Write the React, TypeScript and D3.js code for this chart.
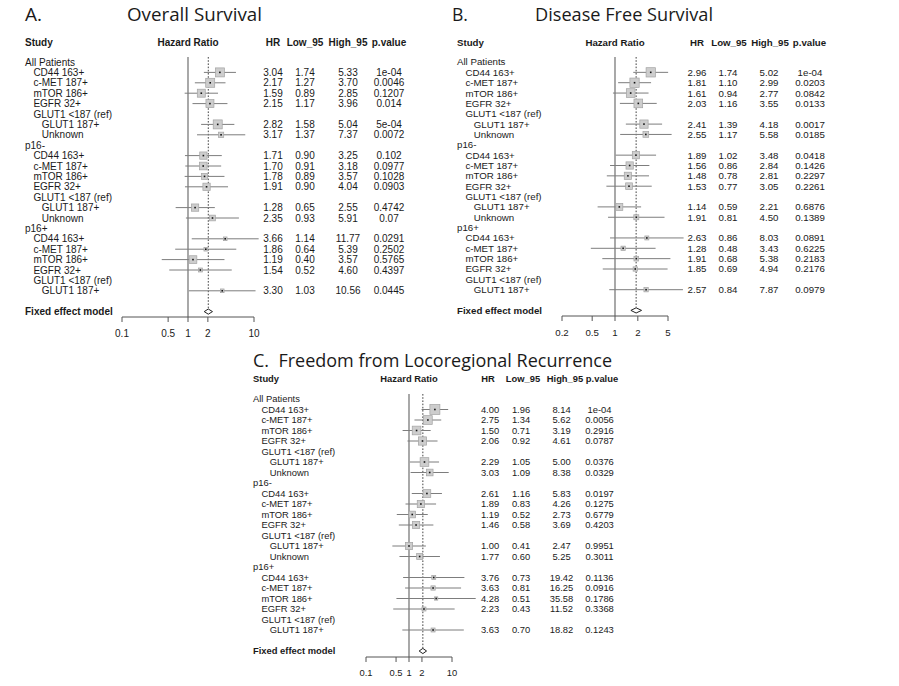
import React from "react";
import * as d3 from "d3";

// row labels shared by the three panels
const studyLabels = [
  "All Patients", "CD44 163+", "c-MET 187+", "mTOR 186+", "EGFR 32+", "GLUT1 <187 (ref)", "GLUT1 187+", "Unknown",
  "p16-", "CD44 163+", "c-MET 187+", "mTOR 186+", "EGFR 32+", "GLUT1 <187 (ref)", "GLUT1 187+", "Unknown",
  "p16+", "CD44 163+", "c-MET 187+", "mTOR 186+", "EGFR 32+", "GLUT1 <187 (ref)", "GLUT1 187+",
];
const studyIndent = [0, 1, 1, 1, 1, 1, 2, 2, 0, 1, 1, 1, 1, 1, 2, 2, 0, 1, 1, 1, 1, 1, 2];
// rows that carry an estimate (others are headings / reference)
const dataRows = [1, 2, 3, 4, 6, 7, 9, 10, 11, 12, 14, 15, 17, 18, 19, 20, 22];

// A. Overall Survival
const hrA = [3.04, 2.17, 1.59, 2.15, 2.82, 3.17, 1.71, 1.7, 1.78, 1.91, 1.28, 2.35, 3.66, 1.86, 1.19, 1.54, 3.3];
const lowA = [1.74, 1.27, 0.89, 1.17, 1.58, 1.37, 0.9, 0.91, 0.89, 0.9, 0.65, 0.93, 1.14, 0.64, 0.4, 0.52, 1.03];
const highA = [5.33, 3.7, 2.85, 3.96, 5.04, 7.37, 3.25, 3.18, 3.57, 4.04, 2.55, 5.91, 11.77, 5.39, 3.57, 4.6, 10.56];
const pA = ["1e-04", "0.0046", "0.1207", "0.014", "5e-04", "0.0072", "0.102", "0.0977", "0.1028", "0.0903", "0.4742", "0.07", "0.0291", "0.2502", "0.5765", "0.4397", "0.0445"];
const weightA = [9, 9, 8, 8, 9, 5.3, 7.3, 7.7, 6, 7.3, 7.3, 5.7, 3.7, 3.7, 7.7, 4, 3.7];
const fixedA = [2.03, 1.76, 2.35];
const ticksA = [0.1, 0.5, 1, 2, 10];

// B. Disease Free Survival
const hrB = [2.96, 1.81, 1.61, 2.03, 2.41, 2.55, 1.89, 1.56, 1.48, 1.53, 1.14, 1.91, 2.63, 1.28, 1.91, 1.85, 2.57];
const lowB = [1.74, 1.1, 0.94, 1.16, 1.39, 1.17, 1.02, 0.86, 0.78, 0.77, 0.59, 0.81, 0.86, 0.48, 0.68, 0.69, 0.84];
const highB = [5.02, 2.99, 2.77, 3.55, 4.18, 5.58, 3.48, 2.84, 2.81, 3.05, 2.21, 4.5, 8.03, 3.43, 5.38, 4.94, 7.87];
const pB = ["1e-04", "0.0203", "0.0842", "0.0133", "0.0017", "0.0185", "0.0418", "0.1426", "0.2297", "0.2261", "0.6876", "0.1389", "0.0891", "0.6225", "0.2183", "0.2176", "0.0979"];
const weightB = [9.3, 9.3, 8.7, 8.7, 8.3, 5.7, 7.3, 7.3, 7.3, 6.7, 7, 5, 4, 4.3, 4.7, 4.3, 4.3];
const fixedB = [1.9, 1.62, 2.24];
const ticksB = [0.2, 0.5, 1, 2, 5];

// C. Freedom from Locoregional Recurrence
const hrC = [4.0, 2.75, 1.5, 2.06, 2.29, 3.03, 2.61, 1.89, 1.19, 1.46, 1.0, 1.77, 3.76, 3.63, 4.28, 2.23, 3.63];
const lowC = [1.96, 1.34, 0.71, 0.92, 1.05, 1.09, 1.16, 0.83, 0.52, 0.58, 0.41, 0.6, 0.73, 0.81, 0.51, 0.43, 0.7];
const highC = [8.14, 5.62, 3.19, 4.61, 5.0, 8.38, 5.83, 4.26, 2.73, 3.69, 2.47, 5.25, 19.42, 16.25, 35.58, 11.52, 18.82];
const pC = ["1e-04", "0.0056", "0.2916", "0.0787", "0.0376", "0.0329", "0.0197", "0.1275", "0.6779", "0.4203", "0.9951", "0.3011", "0.1136", "0.0916", "0.1786", "0.3368", "0.1243"];
const weightC = [10, 8.7, 8.7, 8.3, 8.7, 6.7, 7.7, 7.3, 6.7, 7.3, 7.3, 6, 4, 4.3, 3.3, 4, 4];
const fixedC = [2.1, 1.72, 2.56];
const ticksC = [0.1, 0.5, 1, 2, 10];

const colHeads = ["HR", "Low_95", "High_95", "p.value"];

const panels = [
  {
    key: "A", letter: "A.", title: "Overall Survival", letterX: 25, letterW: 17, titleX: 127, titleW: 135, titleY: 21,
    x0: 25, fs: 10, headY: 45.5, rowY0: 62, rowH: 10.4, domain: [0.1, 10], range: [122, 254],
    cols: [273, 305, 348, 389], headCols: [273, 305, 348, 389], axisY: 317, tickY: 337,
    hr: hrA, low: lowA, high: highA, p: pA, w: weightA, fixed: fixedA, ticks: ticksA,
  },
  {
    key: "B", letter: "B.", title: "Disease Free Survival", letterX: 452, letterW: 16, titleX: 535, titleW: 178, titleY: 21,
    x0: 457, fs: 9.7, headY: 45.5, rowY0: 62, rowH: 10.35, domain: [0.2, 5], range: [562, 668],
    cols: [697, 728, 769, 810], headCols: [697, 729, 770, 809.5], axisY: 316, tickY: 336,
    hr: hrB, low: lowB, high: highB, p: pB, w: weightB, fixed: fixedB, ticks: ticksB,
  },
  {
    key: "C", letter: "", title: "C.  Freedom from Locoregional Recurrence", letterX: 0, letterW: 0, titleX: 253, titleW: 359, titleY: 367,
    x0: 253, fs: 9.4, headY: 381.5, rowY0: 399, rowH: 10.5, domain: [0.1, 10], range: [366, 452],
    cols: [490, 521, 561.5, 599.5], headCols: [488, 523, 565, 602], axisY: 657, tickY: 676,
    hr: hrC, low: lowC, high: highC, p: pC, w: weightC, fixed: fixedC, ticks: ticksC,
  },
];

const textFont = "'Liberation Sans', Arial, sans-serif";
const titleFont = "'Open Sans', 'Noto Sans', sans-serif";

function Forest({ cfg }: { cfg: any }) {
  const x = d3.scaleLog().domain(cfg.domain).range(cfg.range);
  const y = (i: number) => cfg.rowY0 + i * cfg.rowH;
  const box = d3.scaleLinear().domain([0, 10]).range([0, 10]);
  const fixedRow = studyLabels.length + 1;
  const fy = y(fixedRow);
  const [fe, fl, fh] = cfg.fixed;
  const top = cfg.rowY0 - 5;
  const dy = cfg.fs * 0.36;

  return (
    <g fontFamily={textFont} fontSize={cfg.fs} fill="#1a1a1a">
      {cfg.letter && (
        <text x={cfg.letterX} y={cfg.titleY} fontFamily={titleFont} fontSize={19} textLength={cfg.letterW} lengthAdjust="spacingAndGlyphs">{cfg.letter}</text>
      )}
      <text x={cfg.titleX} y={cfg.titleY} fontFamily={titleFont} fontSize={19} textLength={cfg.titleW} lengthAdjust="spacingAndGlyphs" style={{ whiteSpace: "pre" }}>{cfg.title}</text>

      <text x={cfg.x0} y={cfg.headY} fontWeight="bold">Study</text>
      <text x={x(1)} y={cfg.headY} fontWeight="bold" textAnchor="middle">Hazard Ratio</text>
      {colHeads.map((h, k) => (
        <text key={h} x={cfg.headCols[k]} y={cfg.headY} fontWeight="bold" textAnchor="middle">{h}</text>
      ))}

      {studyLabels.map((s, i) => (
        <text key={i} x={cfg.x0 + studyIndent[i] * 8.4} y={y(i) + dy}>{s}</text>
      ))}
      <text x={cfg.x0} y={fy + dy} fontWeight="bold">Fixed effect model</text>

      {/* reference line at 1 and dotted line at pooled estimate */}
      <line x1={x(1)} x2={x(1)} y1={top} y2={cfg.axisY} stroke="#7a7a7a" strokeWidth={1.3} />
      <line x1={x(fe)} x2={x(fe)} y1={top} y2={fy - 3} stroke="#444" strokeWidth={1} strokeDasharray="1.6,1.6" />

      {dataRows.map((r, k) => {
        const cy = y(r);
        const s = box(cfg.w[k]);
        return (
          <g key={r}>
            <line x1={x(cfg.low[k])} x2={x(cfg.high[k])} y1={cy} y2={cy} stroke="#7d7d7d" strokeWidth={1} />
            <rect x={x(cfg.hr[k]) - s / 2} y={cy - s / 2} width={s} height={s} fill="#cdcdcd" stroke="#a3a3a3" strokeWidth={0.7} />
            <rect x={x(cfg.hr[k]) - 0.8} y={cy - 0.8} width={1.6} height={1.6} fill="#111" />
            <text x={cfg.cols[0]} y={cy + dy} textAnchor="middle">{cfg.hr[k].toFixed(2)}</text>
            <text x={cfg.cols[1]} y={cy + dy} textAnchor="middle">{cfg.low[k].toFixed(2)}</text>
            <text x={cfg.cols[2]} y={cy + dy} textAnchor="middle">{cfg.high[k].toFixed(2)}</text>
            <text x={cfg.cols[3]} y={cy + dy} textAnchor="middle">{cfg.p[k]}</text>
          </g>
        );
      })}

      <path
        d={`M${x(fl)},${fy} L${x(fe)},${fy - 2.6} L${x(fh)},${fy} L${x(fe)},${fy + 2.6} Z`}
        fill="#fff" stroke="#222" strokeWidth={1}
      />

      <line x1={cfg.range[0]} x2={cfg.range[1]} y1={cfg.axisY} y2={cfg.axisY} stroke="#555" strokeWidth={1} />
      {cfg.ticks.map((t: number) => (
        <g key={t}>
          <line x1={x(t)} x2={x(t)} y1={cfg.axisY} y2={cfg.axisY + 5} stroke="#555" strokeWidth={1} />
          <text x={x(t)} y={cfg.tickY} textAnchor="middle">{t}</text>
        </g>
      ))}
    </g>
  );
}

export default function App() {
  return (
    <svg width={899} height={686} style={{ position: "absolute", left: 0, top: 0, background: "#fff" }}>
      <rect width={899} height={686} fill="#fff" />
      {panels.map((p) => (
        <Forest key={p.key} cfg={p} />
      ))}
    </svg>
  );
}
